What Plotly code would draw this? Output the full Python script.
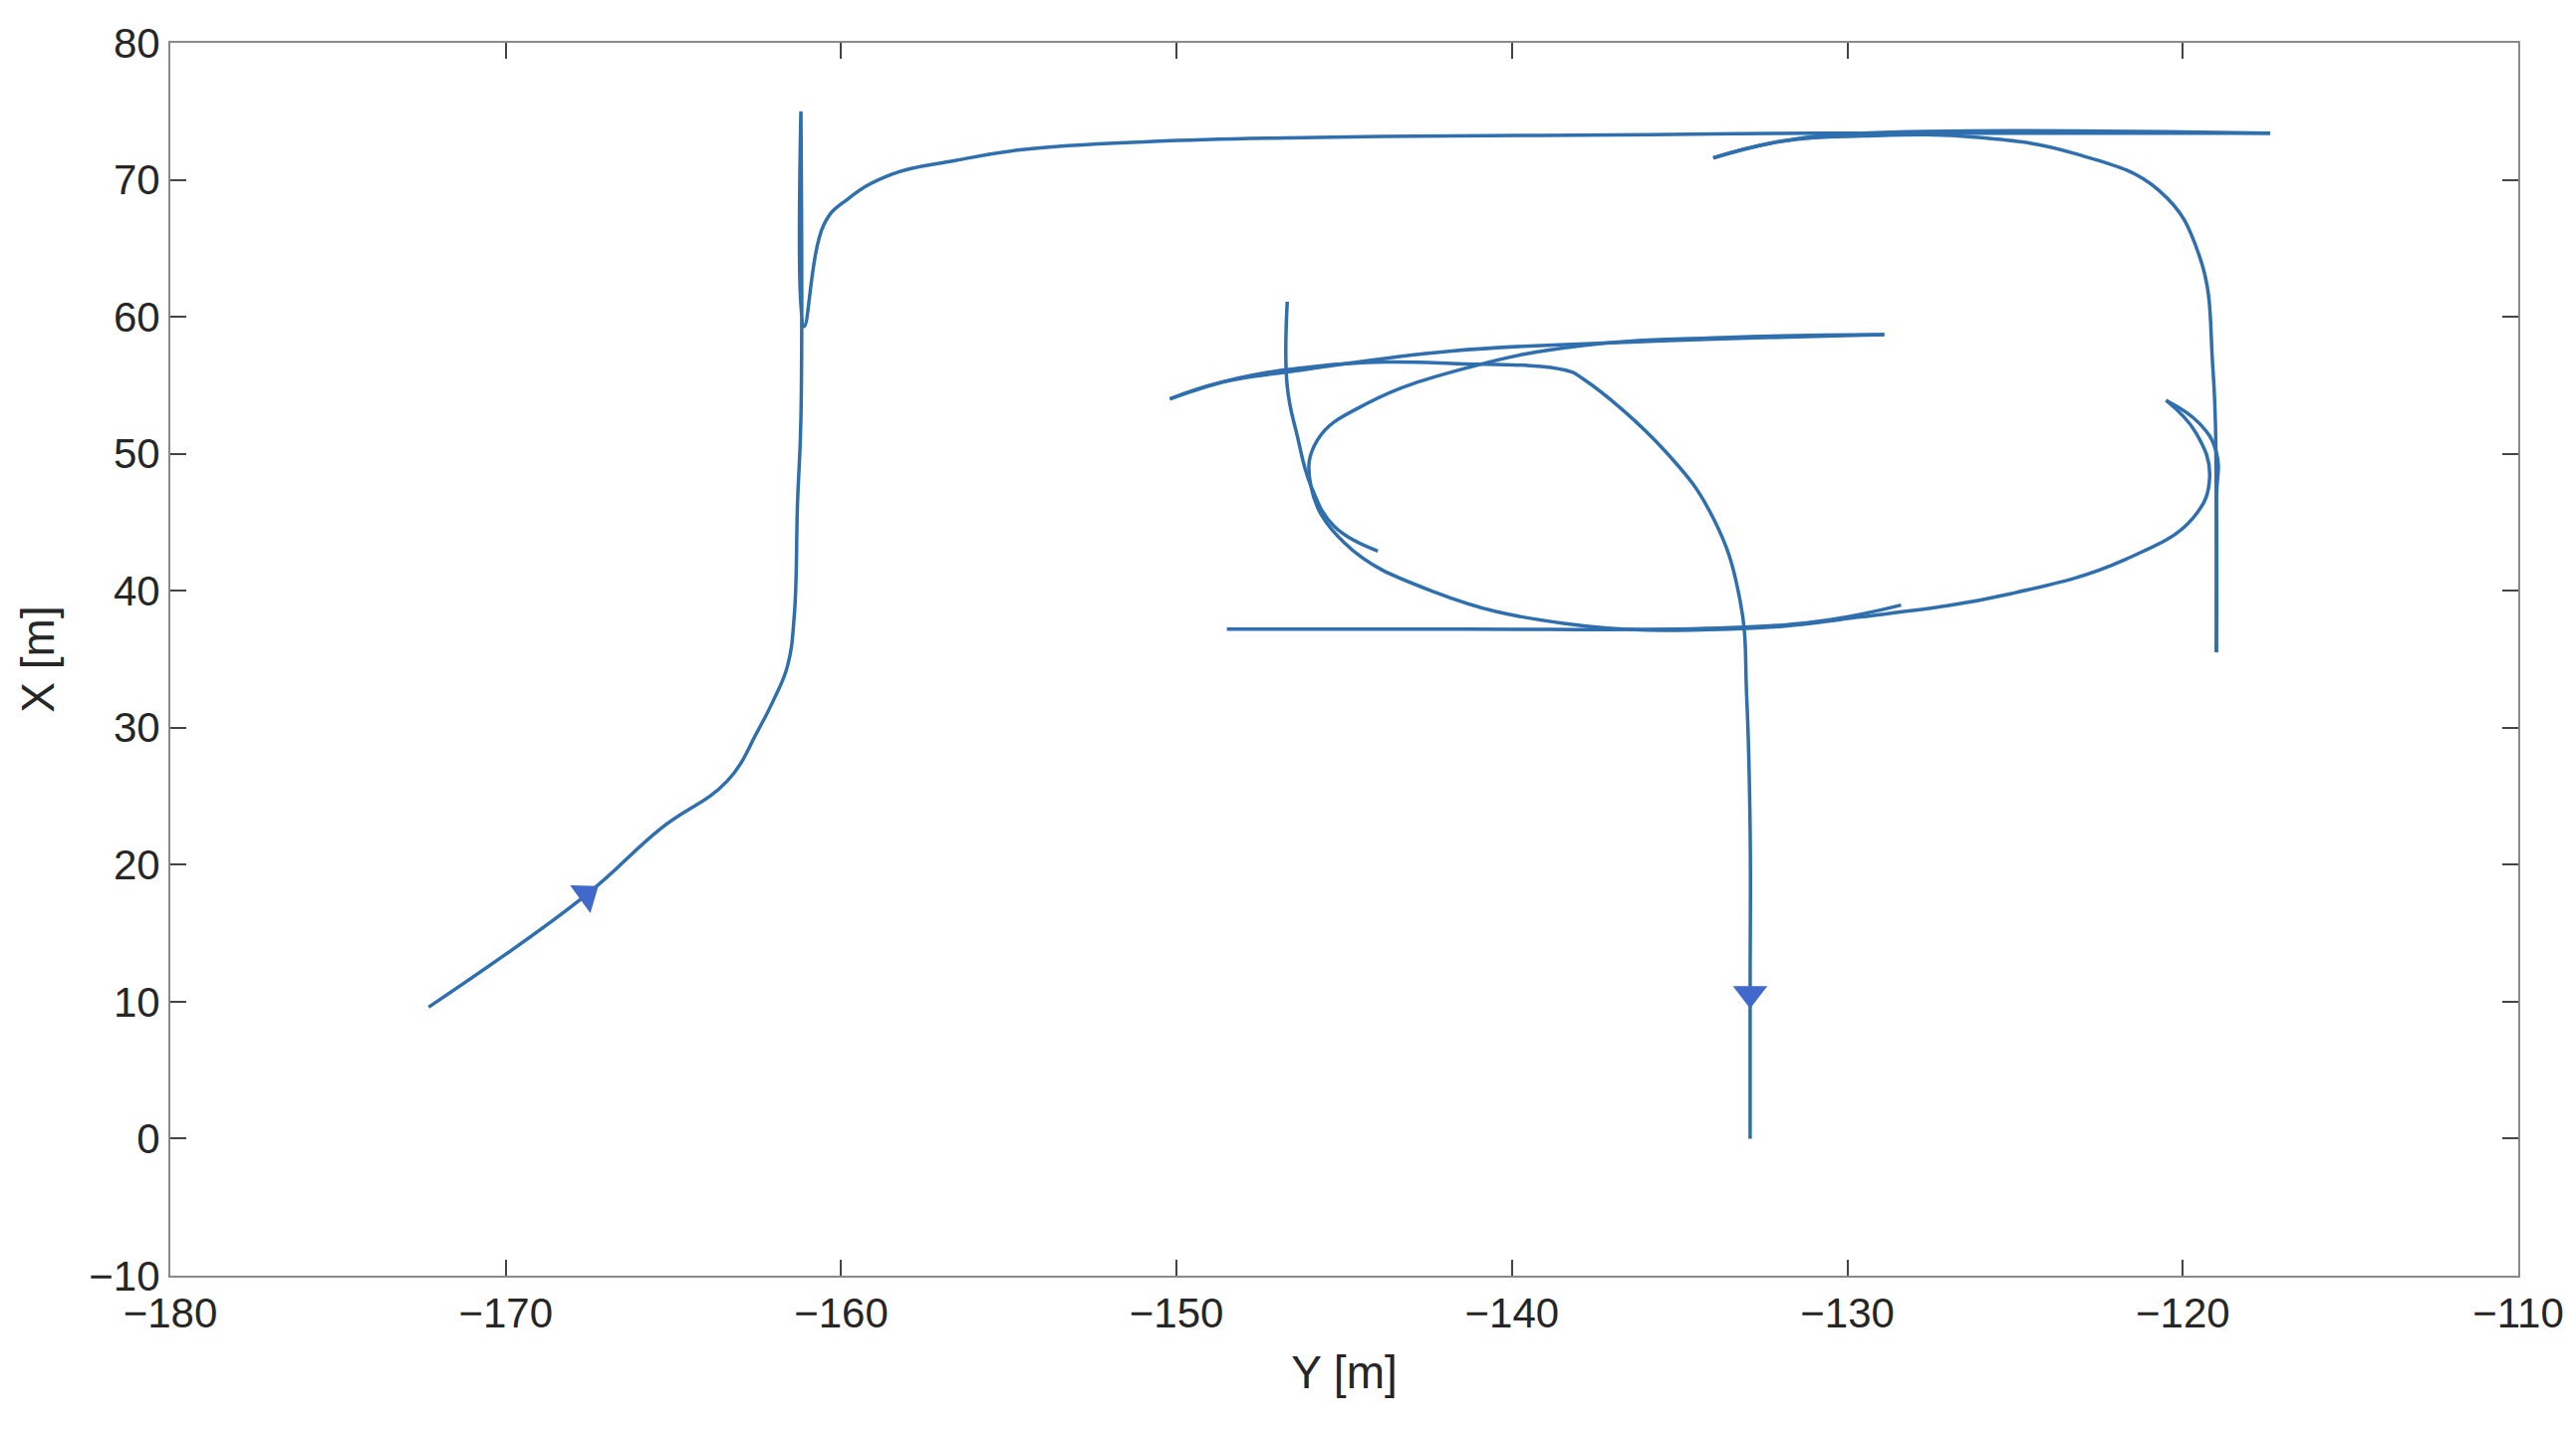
import plotly.graph_objects as go

# Trajectory segments (Y [m], X [m])
seg_main_y = [-172.3,-167.6,-165.4,-163.4,-162.5,-162.0,-161.6,-161.4,-161.3,-161.2,-161.2,-161.2,-161.1,-160.5,-159.8,-158.5,-156.6,-154.6,-150.7,-145.8,-141.8,-135.9,-131.0,-126.1,-121.2,-117.4]
seg_main_x = [9.6,17.8,22.6,26.1,29.7,32.1,34.5,38.1,46.5,52.5,75.0,60.9,59.3,66.8,68.6,70.4,71.4,72.2,72.8,73.1,73.2,73.3,73.4,73.4,73.4,73.4]
seg_rev1_y = [-117.4,-129.55,-132.0,-134.0]
seg_rev1_x = [73.4,73.4,72.8,71.6]
seg_fwd1_y = [-134.0,-132.0,-129.55,-126.1,-123.2,-120.7,-119.5,-119.1,-119.0,-119.0]
seg_fwd1_x = [71.6,72.8,73.2,73.1,71.9,69.2,64.4,56.1,46.5,35.5]
seg_rev2_y = [-119.0,-119.0,-119.0,-119.5,-120.5]
seg_rev2_x = [35.5,46.5,50.1,52.2,53.9]
seg_loop_y = [-120.5,-119.6,-119.2,-119.7,-121.7,-125.1,-129.55,-133.5,-138.4,-142.3,-145.0,-146.0,-145.8,-144.3,-141.3,-137.9,-133.5,-128.9]
seg_loop_x = [53.9,51.5,48.3,45.3,42.3,39.8,38.1,37.2,37.6,39.9,43.5,47.7,51.0,53.7,56.3,57.9,58.5,58.7]
seg_rev3_y = [-128.9,-135.9,-141.8,-146.3,-148.7,-150.2]
seg_rev3_x = [58.7,58.2,57.5,56.1,55.2,54.0]
seg_end_y = [-150.2,-148.2,-145.8,-143.8,-141.8,-138.4,-137.9,-135.4,-134.0,-133.2,-133.0,-132.9,-132.9,-132.9]
seg_end_x = [54.0,55.5,56.4,56.7,56.6,56.1,55.5,50.1,45.3,39.3,32.1,22.6,10.6,0.0]
seg_hook_y = [-146.7,-146.7,-146.4,-146.0,-145.3,-144.0]
seg_hook_x = [61.1,54.9,51.3,47.7,44.7,42.9]
seg_bottom_y = [-148.5,-141.8,-133.5,-130.5,-128.4]
seg_bottom_x = [37.2,37.2,37.3,37.9,38.95]

arrow1_y, arrow1_x = [-167.6], [17.8]
arrow2_y, arrow2_x = [-132.9], [10.6]

segs = [(seg_main_y, seg_main_x), (seg_rev1_y, seg_rev1_x), (seg_fwd1_y, seg_fwd1_x),
        (seg_rev2_y, seg_rev2_x), (seg_loop_y, seg_loop_x), (seg_rev3_y, seg_rev3_x),
        (seg_end_y, seg_end_x), (seg_hook_y, seg_hook_x), (seg_bottom_y, seg_bottom_x)]

fig = go.Figure()
for sy, sx in segs:
    fig.add_trace(go.Scatter(x=sy, y=sx, mode="lines",
                             line=dict(color="#2f6fae", width=3.5, shape="spline", smoothing=1.2),
                             showlegend=False, hoverinfo="skip"))
fig.add_trace(go.Scatter(x=arrow1_y, y=arrow1_x, mode="markers",
                         marker=dict(symbol="triangle-up", angle=54, size=30, color="#4169cc"),
                         showlegend=False))
fig.add_trace(go.Scatter(x=arrow2_y, y=arrow2_x, mode="markers",
                         marker=dict(symbol="triangle-down", size=30, color="#4169cc"),
                         showlegend=False))

ax = dict(showgrid=False, zeroline=False, showline=True, linecolor="#8a8a8a", linewidth=2, mirror="allticks",
          ticks="inside", ticklen=16, tickwidth=2, tickcolor="#444",
          tickfont=dict(size=42, color="#262626", family="Liberation Sans"))
fig.update_xaxes(range=[-180, -110], dtick=10,
                 title=dict(text="Y [m]", font=dict(size=46, color="#262626", family="Liberation Sans"), standoff=20), **ax)
fig.update_yaxes(range=[-10, 80], dtick=10,
                 title=dict(text="X [m]", font=dict(size=46, color="#262626", family="Liberation Sans"), standoff=20), **ax)
fig.update_layout(width=2586, height=1441, margin=dict(l=163, r=66, t=26, b=168),
                  plot_bgcolor="white", paper_bgcolor="white")
fig.write_html("out.html")
